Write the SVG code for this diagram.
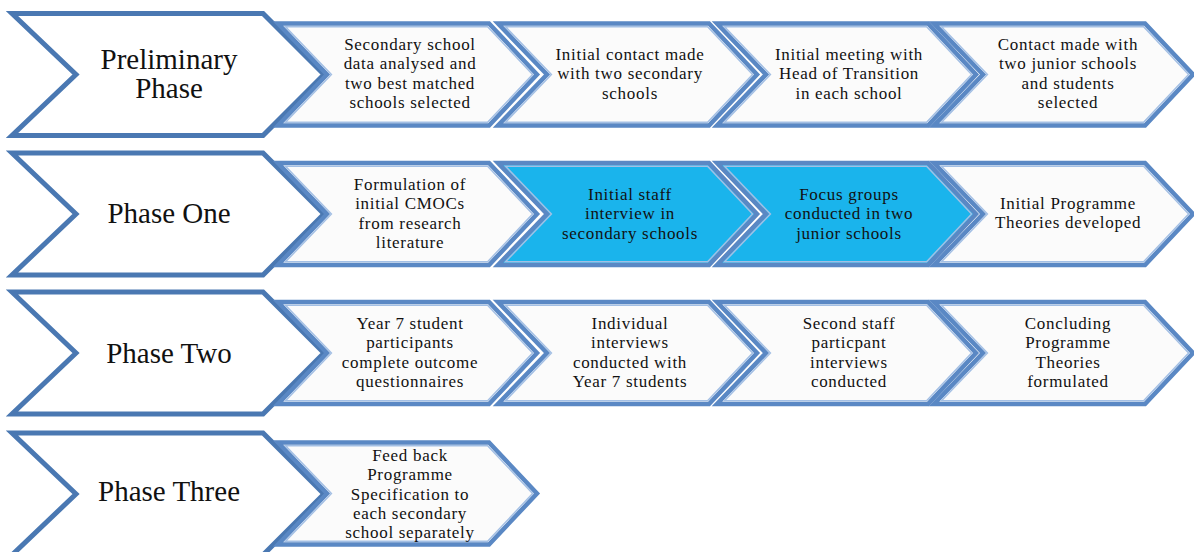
<svg xmlns="http://www.w3.org/2000/svg" width="1194" height="552" viewBox="0 0 1194 552">
<style>
.big{fill:#ffffff;stroke:#4a78b2;stroke-width:5;stroke-linejoin:miter}
.sm{fill:#fbfbfb;stroke:#5a88c4;stroke-width:4.5;stroke-linejoin:miter}
.hl{fill:#1ab4ec}
.in{fill:none;stroke:#a3bfe4;stroke-width:1.5;stroke-linejoin:miter}
.bt{font-family:"Liberation Serif","Times New Roman",serif;font-size:29px;fill:#111;text-anchor:middle}
.st{font-family:"Liberation Serif","Times New Roman",serif;font-size:17px;letter-spacing:0.7px;fill:#111;text-anchor:middle}
</style>
<defs>
<path id="bigchev" d="M0,-61 H251 L312,0 L251,61 H0 L64,0 Z"/>
<path id="chev" d="M0,-51 H211 L259,0 L211,51 H0 L49,0 Z"/>
<path id="chevin" d="M7.5,-47.8 H209.6 L254.6,0 L209.6,47.8 H7.5 L53.4,0 Z"/>
</defs>
<rect width="1194" height="552" fill="#ffffff"/>
<g id="connectors"/>

<!-- Row 1 -->
<g id="preliminary-phase">
<use href="#bigchev" class="big" x="12" y="74.5"/>
<text class="bt"><tspan x="169" y="69">Preliminary</tspan><tspan x="169" y="98">Phase</tspan></text>
</g>
<g id="p0-1">
<use href="#chev" class="sm" x="278" y="74.5"/><use href="#chevin" class="in" x="278" y="74.5"/>
<text class="st"><tspan x="410" y="50">Secondary school</tspan><tspan x="410" y="69.3">data analysed and</tspan><tspan x="410" y="88.6">two best matched</tspan><tspan x="410" y="108">schools selected</tspan></text>
</g>
<g id="p0-2">
<use href="#chev" class="sm" x="498" y="74.5"/><use href="#chevin" class="in" x="498" y="74.5"/>
<text class="st"><tspan x="630" y="60">Initial contact made</tspan><tspan x="630" y="79.3">with two secondary</tspan><tspan x="630" y="98.6">schools</tspan></text>
</g>
<g id="p0-3">
<use href="#chev" class="sm" x="717" y="74.5"/><use href="#chevin" class="in" x="717" y="74.5"/>
<text class="st"><tspan x="849" y="60">Initial meeting with</tspan><tspan x="849" y="79.3">Head of Transition</tspan><tspan x="849" y="98.6">in each school</tspan></text>
</g>
<g id="p0-4">
<use href="#chev" class="sm" x="934" y="74.5"/><use href="#chevin" class="in" x="934" y="74.5"/>
<text class="st"><tspan x="1068" y="50">Contact made with</tspan><tspan x="1068" y="69.3">two junior schools</tspan><tspan x="1068" y="88.6">and students</tspan><tspan x="1068" y="108">selected</tspan></text>
</g>

<!-- Row 2 -->
<g id="phase-one">
<use href="#bigchev" class="big" x="12" y="214"/>
<text class="bt"><tspan x="169" y="223">Phase One</tspan></text>
</g>
<g id="p1-1">
<use href="#chev" class="sm" x="278" y="214"/><use href="#chevin" class="in" x="278" y="214"/>
<text class="st"><tspan x="410" y="190">Formulation of</tspan><tspan x="410" y="209.3">initial CMOCs</tspan><tspan x="410" y="228.6">from research</tspan><tspan x="410" y="248">literature</tspan></text>
</g>
<g id="p1-2">
<use href="#chev" class="sm hl" x="498" y="214"/><use href="#chevin" class="in" x="498" y="214"/>
<text class="st"><tspan x="630" y="200">Initial staff</tspan><tspan x="630" y="219.3">interview in</tspan><tspan x="630" y="238.6">secondary schools</tspan></text>
</g>
<g id="p1-3">
<use href="#chev" class="sm hl" x="717" y="214"/><use href="#chevin" class="in" x="717" y="214"/>
<text class="st"><tspan x="849" y="200">Focus groups</tspan><tspan x="849" y="219.3">conducted in two</tspan><tspan x="849" y="238.6">junior schools</tspan></text>
</g>
<g id="p1-4">
<use href="#chev" class="sm" x="934" y="214"/><use href="#chevin" class="in" x="934" y="214"/>
<text class="st"><tspan x="1068" y="209">Initial Programme</tspan><tspan x="1068" y="228.3">Theories developed</tspan></text>
</g>

<!-- Row 3 -->
<g id="phase-two">
<use href="#bigchev" class="big" x="12" y="353"/>
<text class="bt"><tspan x="169" y="363">Phase Two</tspan></text>
</g>
<g id="p2-1">
<use href="#chev" class="sm" x="278" y="353"/><use href="#chevin" class="in" x="278" y="353"/>
<text class="st"><tspan x="410" y="329">Year 7 student</tspan><tspan x="410" y="348.3">participants</tspan><tspan x="410" y="367.6">complete outcome</tspan><tspan x="410" y="387">questionnaires</tspan></text>
</g>
<g id="p2-2">
<use href="#chev" class="sm" x="498" y="353"/><use href="#chevin" class="in" x="498" y="353"/>
<text class="st"><tspan x="630" y="329">Individual</tspan><tspan x="630" y="348.3">interviews</tspan><tspan x="630" y="367.6">conducted with</tspan><tspan x="630" y="387">Year 7 students</tspan></text>
</g>
<g id="p2-3">
<use href="#chev" class="sm" x="717" y="353"/><use href="#chevin" class="in" x="717" y="353"/>
<text class="st"><tspan x="849" y="329">Second staff</tspan><tspan x="849" y="348.3">particpant</tspan><tspan x="849" y="367.6">interviews</tspan><tspan x="849" y="387">conducted</tspan></text>
</g>
<g id="p2-4">
<use href="#chev" class="sm" x="934" y="353"/><use href="#chevin" class="in" x="934" y="353"/>
<text class="st"><tspan x="1068" y="329">Concluding</tspan><tspan x="1068" y="348.3">Programme</tspan><tspan x="1068" y="367.6">Theories</tspan><tspan x="1068" y="387">formulated</tspan></text>
</g>

<!-- Row 4 -->
<g id="phase-three">
<use href="#bigchev" class="big" x="12" y="494"/>
<text class="bt"><tspan x="169" y="501">Phase Three</tspan></text>
</g>
<g id="p3-1">
<use href="#chev" class="sm" x="278" y="493.5"/><use href="#chevin" class="in" x="278" y="493.5"/>
<text class="st"><tspan x="410" y="461">Feed back</tspan><tspan x="410" y="480.3">Programme</tspan><tspan x="410" y="499.6">Specification to</tspan><tspan x="410" y="519">each secondary</tspan><tspan x="410" y="538.3">school separately</tspan></text>
</g>
</svg>
